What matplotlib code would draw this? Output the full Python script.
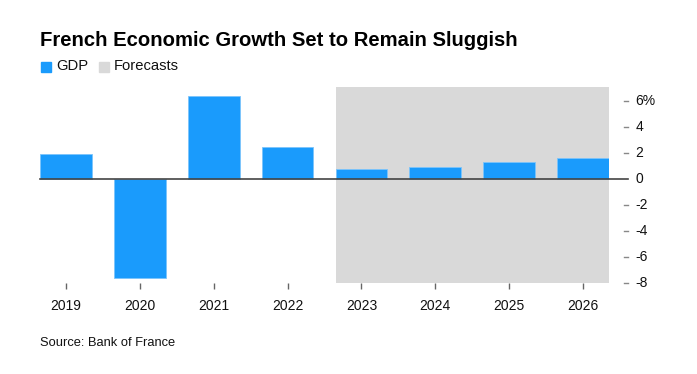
import matplotlib
matplotlib.use("Agg")
import matplotlib.pyplot as plt
from matplotlib.patches import Rectangle
from matplotlib.transforms import blended_transform_factory

years = ["2019", "2020", "2021", "2022", "2023", "2024", "2025", "2026"]
gdp = [1.9, -7.6, 6.4, 2.5, 0.8, 0.9, 1.3, 1.6]
forecast_start = "2023"
yticks = [6, 4, 2, 0, -2, -4, -6, -8]
ytick_labels = ["6%", "4", "2", "0", "-2", "-4", "-6", "-8"]

plt.rcParams["font.family"] = ["Liberation Sans", "DejaVu Sans"]

W, H = 697, 374
fig = plt.figure(figsize=(W / 100, H / 100), dpi=100)
left, right, top, bottom = 40, 609, 87, 283
ax = fig.add_axes([left / W, 1 - bottom / H, (right - left) / W, (bottom - top) / H])

blue = "#1a9bfc"
grey = "#d9d9d9"
x = list(range(len(years)))
bw = 0.7
ax.set_xlim(-bw / 2, len(years) - 1 + bw / 2)
ax.set_ylim(-8, 7.1)

fs = years.index(forecast_start)
ax.axvspan(fs - bw / 2, len(years) - 1 + bw / 2, color=grey, zorder=0, lw=0)
ax.bar(x, gdp, width=bw, color=blue, edgecolor="#7cc4fb", linewidth=0.6, zorder=2)

for s in ax.spines.values():
    s.set_visible(False)

trans = blended_transform_factory(ax.transAxes, ax.transData)
ax.plot([0, 1.034], [0, 0], color="#444444", lw=1.2, transform=trans, clip_on=False, zorder=3)
ax.set_yticks([])
for v, lab in zip(yticks, ytick_labels):
    if v != 0:
        ax.plot([1.026, 1.033], [v, v], color="#888888", lw=1.0, transform=trans, clip_on=False)
    ax.text(1.047, v, lab, transform=trans, ha="left", va="center", fontsize=10, color="#111111")

ax.set_xticks(x)
ax.set_xticklabels(years, fontsize=10, color="#111111")
ax.tick_params(axis="x", length=4.5, width=1, color="#666666", pad=7, direction="out")

fig.text(40 / W, 1 - 40 / H, "French Economic Growth Set to Remain Sluggish",
         fontsize=14.6, fontweight="bold", ha="left", va="center", color="black")
# legend
fig.patches.append(Rectangle((41 / W, 1 - 71.5 / H), 9.5 / W, 9.5 / H, transform=fig.transFigure,
                             color=blue, figure=fig))
fig.text(56 / W, 1 - 66.5 / H, "GDP", fontsize=10.6, ha="left", va="center", color="#111111")
fig.patches.append(Rectangle((99 / W, 1 - 71.5 / H), 9.5 / W, 9.5 / H, transform=fig.transFigure,
                             color=grey, figure=fig))
fig.text(114 / W, 1 - 66.5 / H, "Forecasts", fontsize=10.6, ha="left", va="center", color="#111111")

fig.text(40 / W, 1 - 343 / H, "Source: Bank of France", fontsize=9.3, ha="left", va="center", color="#111111")

fig.savefig("out.png", dpi=100)
